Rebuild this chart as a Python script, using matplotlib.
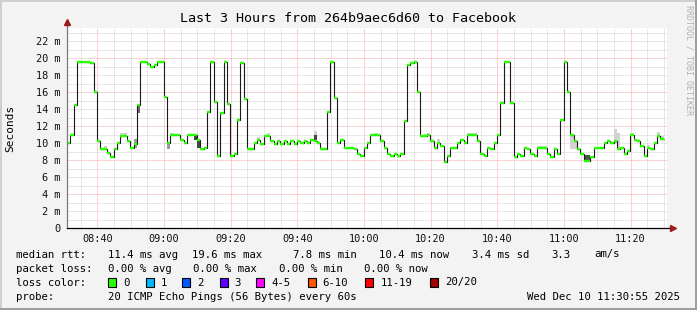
import numpy as np
import matplotlib
matplotlib.use("Agg")
import matplotlib.pyplot as plt
import matplotlib.dates as mdates
from matplotlib.patches import Rectangle

# 1-minute median rtt in ms, starting 08:30:55
start = np.datetime64("2025-12-10T08:30:55")
end = np.datetime64("2025-12-10T11:30:55")
median_ms = [
    10.0, 11.0, 14.5, 19.55, 19.6, 19.6, 19.55, 19.5, 16.0, 10.3,
    9.35, 9.35, 8.9, 8.4, 9.35, 10.0, 10.9, 10.9, 10.3, 9.4,
    9.95, 14.5, 19.55, 19.55, 19.3, 19.0, 19.2, 19.6, 19.6, 15.4,
    10.0, 11.0, 11.0, 11.0, 10.4, 10.0, 11.0, 11.0, 11.0, 10.4,
    9.35, 9.45, 13.7, 19.55, 14.8, 8.5, 13.6, 19.55, 14.6, 8.5,
    8.7, 12.7, 19.5, 15.2, 9.35, 9.35, 10.0, 10.4, 9.95, 10.9,
    10.9, 10.3, 9.95, 10.3, 9.95, 10.3, 9.95, 10.3, 9.95, 10.3,
    10.0, 10.3, 10.0, 10.4, 10.2, 10.0, 9.35, 9.35, 13.7, 19.55,
    15.3, 10.0, 10.4, 9.45, 9.45, 9.45, 9.35, 8.7, 8.5, 9.45,
    10.0, 11.0, 11.0, 11.0, 10.3, 9.4, 8.7, 8.5, 8.7, 8.5,
    8.7, 12.6, 19.2, 19.4, 19.6, 16.0, 10.9, 10.9, 11.0, 10.3,
    9.45, 10.0, 9.7, 7.8, 8.5, 9.4, 9.4, 10.0, 10.4, 10.0,
    11.0, 11.0, 11.0, 10.3, 8.7, 8.5, 9.4, 9.35, 10.0, 11.0,
    14.7, 19.55, 19.55, 14.7, 8.4, 8.7, 8.5, 9.4, 9.35, 8.7,
    8.5, 9.45, 9.45, 9.45, 8.7, 8.4, 9.35, 8.7, 12.7, 19.55,
    16.0, 10.95, 10.3, 9.35, 8.7, 7.9, 7.9, 8.4, 9.4, 9.4,
    9.4, 10.0, 10.3, 10.0, 10.3, 9.35, 9.4, 8.7, 9.1, 11.0,
    10.4, 10.2, 9.7, 8.5, 9.45, 9.35, 10.0, 10.9, 10.5,
]

# smoke (ping spread) where it is visible: minute index, low, high, shade
smoke_min = [11, 16, 17, 31, 57, 60, 74, 92, 107, 108, 111, 120, 121, 122,
             141, 142, 143, 151, 152, 164, 165, 169, 174, 177, 178,
             20, 30, 21, 38, 39, 74, 155, 156]
smoke_lo = [9.35, 10.9, 10.9, 11.0, 10.4, 10.9, 11.0, 11.0, 10.9, 11.0, 10.0, 11.0, 11.0, 11.0,
            9.45, 9.45, 9.45, 9.35, 9.35, 10.0, 9.35, 11.0, 9.45, 10.9, 10.5,
            9.4, 9.3, 13.6, 10.4, 9.4, 10.2, 7.9, 7.9]
smoke_hi = [9.65, 11.25, 11.25, 11.2, 10.7, 11.2, 11.4, 11.25, 11.1, 11.2, 10.5, 11.25, 11.25, 11.25,
            9.7, 9.7, 9.7, 10.95, 10.3, 11.7, 11.25, 11.25, 9.8, 11.35, 10.8,
            10.5, 10.0, 14.5, 11.0, 10.4, 11.0, 8.6, 8.6]
smoke_shade = ["#d2d2d2"] * 25 + ["#9a9a9a", "#9a9a9a", "#6a6a6a", "#454545", "#454545",
                                  "#454545", "#505050", "#505050"]

ytick_vals = [0, 2, 4, 6, 8, 10, 12, 14, 16, 18, 20, 22]
ytick_labels = ["0", "2 m", "4 m", "6 m", "8 m", "10 m", "12 m", "14 m",
                "16 m", "18 m", "20 m", "22 m"]

title = "Last 3 Hours from 264b9aec6d60 to Facebook"
rtt_items = ["11.4 ms avg", "19.6 ms max", "7.8 ms min", "10.4 ms now",
             "3.4 ms sd", "3.3", "am/s"]
rtt_x = [107.6, 192, 293.3, 379, 472.4, 551, 593.8]
loss_items = ["0.00 % avg", "0.00 % max", "0.00 % min", "0.00 % now"]
loss_x = [107.6, 193.3, 279, 364.4]
loss_labels = ["0", "1", "2", "3", "4-5", "6-10", "11-19", "20/20"]
loss_colors = ["#26ff00", "#00b8ff", "#0059ff", "#5e00ff", "#ff00ff",
               "#ff5500", "#ff0000", "#a00000"]
loss_box_x = [108.4, 145.8, 182.2, 219.6, 256.4, 307.6, 365.3, 430.2]
probe_text = "20 ICMP Echo Pings (56 Bytes) every 60s"
stamp = "Wed Dec 10 11:30:55 2025"

W, H = 697, 310
mono = "DejaVu Sans Mono"
fig = plt.figure(figsize=(W / 100, H / 100), dpi=100)
fig.patch.set_facecolor("#f3f3f3")

# shaded frame
fig.add_artist(Rectangle((0, 1 - 2 / H), 1, 2 / H, transform=fig.transFigure, color="#cfcfcf", lw=0))
fig.add_artist(Rectangle((0, 0), 2 / W, 1, transform=fig.transFigure, color="#cfcfcf", lw=0))
fig.add_artist(Rectangle((0, 0), 1, 2 / H, transform=fig.transFigure, color="#9e9e9e", lw=0))
fig.add_artist(Rectangle((1 - 2 / W, 0), 2 / W, 1, transform=fig.transFigure, color="#9e9e9e", lw=0))

ax = fig.add_axes([67 / W, 82 / H, 600 / W, 200 / H])
ax.set_facecolor("white")
for s in ax.spines.values():
    s.set_visible(False)

steps = start + np.arange(len(median_ms) + 1) * np.timedelta64(60, "s")
edges = mdates.date2num(steps.astype("datetime64[ms]"))
x0 = mdates.date2num(start.astype("datetime64[ms]"))
x1 = mdates.date2num(end.astype("datetime64[ms]"))
ax.set_xlim(x0, x1)
ax.set_ylim(0, 23.58)

# dotted grid
dot = (0, (1, 1))
grid_minor = "#d0d0d0"
grid_major = "#f0a8a8"
for v in range(1, 24):
    c = grid_major if v % 4 == 0 else grid_minor
    ax.axhline(v, color=c, lw=0.72, ls=dot, zorder=1)
ax.xaxis.set_major_locator(mdates.MinuteLocator(byminute=[0, 20, 40]))
ax.xaxis.set_minor_locator(mdates.MinuteLocator(byminute=range(0, 60, 5)))
ax.xaxis.set_major_formatter(mdates.DateFormatter("%H:%M"))
ax.grid(which="minor", axis="x", color=grid_minor, lw=0.72, ls=dot, zorder=1)
ax.grid(which="major", axis="x", color=grid_major, lw=0.72, ls=dot, zorder=1)
ax.set_axisbelow(True)

# smoke
for i, lo, hi, c in zip(smoke_min, smoke_lo, smoke_hi, smoke_shade):
    ax.bar(edges[i], hi - lo, bottom=lo, width=edges[i + 1] - edges[i],
           align="edge", color=c, lw=0, zorder=2)

# median: dark step line with green caps
ax.stairs(median_ms, edges, color="#1a1a1a", lw=0.8, baseline=None, zorder=3)
ax.hlines(median_ms, edges[:-1], edges[1:], color=loss_colors[0], lw=1.7, zorder=4)

ax.set_yticks(ytick_vals)
ax.set_yticklabels(ytick_labels)
ax.tick_params(axis="both", which="both", length=0, labelsize=7.4, labelcolor="#111111")
ax.tick_params(axis="y", pad=5)
ax.tick_params(axis="x", pad=4.5)
for lab in ax.get_xticklabels() + ax.get_yticklabels():
    lab.set_family(mono)

# axes lines with arrows
ax.plot([0, 0], [0, 1.03], transform=ax.transAxes, color="#7a7a7a", lw=0.9, clip_on=False, zorder=5)
ax.plot([0, 1.01], [0, 0], transform=ax.transAxes, color="black", lw=0.9, clip_on=False, zorder=5)
ax.plot([0], [1.03], transform=ax.transAxes, marker="^", ms=5, color="#9b1c1c", clip_on=False, zorder=6)
ax.plot([1.01], [0], transform=ax.transAxes, marker=">", ms=5, color="#9b1c1c", clip_on=False, zorder=6)

def fx(px):
    return px / W

def fy(py):
    return 1 - py / H

fig.text(0.5, fy(19), title, family=mono, fontsize=9.6, ha="center", va="center")
fig.text(fx(10), fy(128), "Seconds", family=mono, fontsize=8, rotation=90, ha="center", va="center")
fig.text(fx(689), fy(60), "RRDTOOL / TOBI OETIKER", family=mono, fontsize=6.0,
         rotation=270, ha="center", va="center", color="#b0b0b0")

fs = 7.7
rows = [254.5, 268.5, 282.5, 296.5]
fig.text(fx(16), fy(rows[0]), "median rtt:", family=mono, fontsize=fs, va="center")
for t, x in zip(rtt_items, rtt_x):
    fig.text(fx(x), fy(rows[0]), t, family=mono, fontsize=fs, va="center")
fig.text(fx(16), fy(rows[1]), "packet loss:", family=mono, fontsize=fs, va="center")
for t, x in zip(loss_items, loss_x):
    fig.text(fx(x), fy(rows[1]), t, family=mono, fontsize=fs, va="center")
fig.text(fx(16), fy(rows[2]), "loss color:", family=mono, fontsize=fs, va="center")
for t, c, x in zip(loss_labels, loss_colors, loss_box_x):
    fig.add_artist(Rectangle((fx(x), fy(rows[2] + 4.5)), 8 / W, 9 / H, transform=fig.transFigure,
                             facecolor=c, edgecolor="black", lw=0.8))
    fig.text(fx(x + 15), fy(rows[2]), t, family=mono, fontsize=fs, va="center")
fig.text(fx(16), fy(rows[3]), "probe:", family=mono, fontsize=fs, va="center")
fig.text(fx(107.6), fy(rows[3]), probe_text, family=mono, fontsize=fs, va="center")
fig.text(fx(680), fy(rows[3]), stamp, family=mono, fontsize=fs, va="center", ha="right")

fig.savefig("out.png", dpi=100, facecolor=fig.get_facecolor())
